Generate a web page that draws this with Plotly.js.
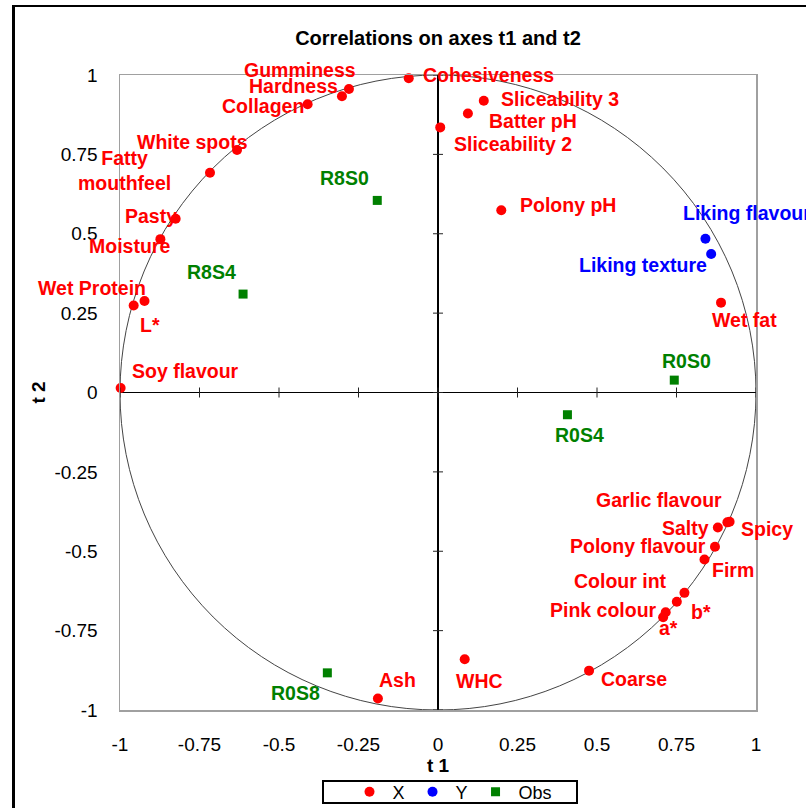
<!DOCTYPE html>
<html>
<head>
<meta charset="utf-8">
<script src="https://cdn.plot.ly/plotly-3.0.1.min.js"></script>
<style>
  html, body { margin: 0; padding: 0; background: #fff; overflow: hidden; }
  #wrap { position: relative; width: 806px; height: 808px; }
  #chart { position: absolute; left: 0; top: 0; width: 806px; height: 808px; }
  #frame { position: absolute; left: 12px; top: 5px; width: 900px; height: 900px;
           border-left: 3px solid #000; border-top: 2px solid #000; pointer-events: none; }
</style>
</head>
<body>
<div id="wrap"><div id="chart"></div><div id="frame"></div></div>
<script>
// ---------------- data ----------------
const xNames = ['Gumminess','Hardness','Collagen','Cohesiveness','White spots','Fatty mouthfeel','Pasty','Moisture',
  'Wet Protein','L*','Soy flavour','Sliceability 3','Batter pH','Sliceability 2','Polony pH','Wet fat',
  'Garlic flavour','Spicy','Salty','Polony flavour','Firm','Colour int','b*','Pink colour','a*','Coarse','WHC','Ash'];
const xT1 = [-0.280,-0.302,-0.410,-0.092,-0.632,-0.717,-0.825,-0.873,
  -0.957,-0.923,-0.998,0.144,0.094,0.007,0.199,0.890,
  0.910,0.917,0.880,0.871,0.838,0.775,0.751,0.716,0.708,0.475,0.084,-0.189];
const xT2 = [0.956,0.933,0.908,0.990,0.764,0.692,0.547,0.483,
  0.274,0.288,0.014,0.919,0.879,0.835,0.574,0.283,
  -0.409,-0.407,-0.425,-0.486,-0.526,-0.631,-0.659,-0.692,-0.708,-0.876,-0.840,-0.964];

const yNames = ['Liking flavour','Liking texture'];
const yT1 = [0.841,0.859];
const yT2 = [0.484,0.436];

const obsNames = ['R8S0','R8S4','R0S0','R0S4','R0S8'];
const obsT1 = [-0.191,-0.613,0.743,0.407,-0.348];
const obsT2 = [0.605,0.310,0.039,-0.070,-0.883];

const tickVals = [-1,-0.75,-0.5,-0.25,0,0.25,0.5,0.75,1];
const tickText = ['-1','-0.75','-0.5','-0.25','0','0.25','0.5','0.75','1'];

// ---------------- label placement (pixel offsets from marker: dx right, dy down) ----------------
const xLabelOff = [[-49,-19],[-48,-10],[-45,2],[80,-3],[-45,-8],[-85,-2],[-25,-3],[-31,7],
  [-42,-18],[6,24],[65,-17],[76,-2],[65,8],[73,17],[67,-5],[23,17],
  [-68,-22],[37,7],[-32,1],[-77,-1],[29,10],[-64,-12],[24,10],[-62,-2],[5,11],[45,8],[15,22],[20,-19]];
const yLabelOff = [[42,-26],[-68,11]];
const obsLabelOff = [[-33,-22],[-32,-22],[12,-19],[12,20],[-32,20]];

const RED = '#ff0000', BLUE = '#0000ff', GREEN = '#008000';
const FONT = 'Liberation Sans, Arial, Helvetica, sans-serif';

const traces = [
  {type:'scatter', mode:'markers', name:'X', x:xT1, y:xT2, text:xNames, cliponaxis:false,
   marker:{symbol:'circle', size:10, color:RED}, hoverinfo:'text+x+y'},
  {type:'scatter', mode:'markers', name:'Y', x:yT1, y:yT2, text:yNames, cliponaxis:false,
   marker:{symbol:'circle', size:10, color:BLUE}, hoverinfo:'text+x+y'},
  {type:'scatter', mode:'markers', name:'Obs', x:obsT1, y:obsT2, text:obsNames, cliponaxis:false,
   marker:{symbol:'square', size:9, color:GREEN}, hoverinfo:'text+x+y'}
];

function labels(names, xs, ys, offs, color) {
  return names.map((n, i) => ({
    x: xs[i], y: ys[i], xref:'x', yref:'y', text: n.replace('Fatty mouthfeel','Fatty<br>mouthfeel'),
    showarrow:false, xanchor:'center', yanchor:'middle', align:'center',
    xshift: offs[i][0], yshift: -offs[i][1],
    font:{family:FONT, size:19.5, color:color, weight:'bold'}
  }));
}
const annotations = [].concat(
  labels(xNames, xT1, xT2, xLabelOff, RED),
  labels(yNames, yT1, yT2, yLabelOff, BLUE),
  labels(obsNames, obsT1, obsT2, obsLabelOff, GREEN)
);

const PW = 636, PH = 635, ML = 120, MT = 75;   // plot area in px
const shapes = [
  {type:'circle', xref:'x', yref:'y', x0:-1, y0:-1, x1:1, y1:1, layer:'below',
   line:{color:'#444', width:1}},
  // legend frame
  {type:'rect', xref:'paper', yref:'paper',
   x0:(323-ML)/PW, x1:(577-ML)/PW, y0:(MT+PH-781)/PH, y1:(MT+PH-803)/PH,
   line:{color:'#000', width:2}, fillcolor:'rgba(0,0,0,0)', layer:'above'}
];
tickVals.forEach(v => {
  shapes.push({type:'line', xref:'x', yref:'y', x0:v, x1:v, ysizemode:'pixel', yanchor:0, y0:-5, y1:5,
    line:{color:'#222', width:1}});
  shapes.push({type:'line', xref:'x', yref:'y', y0:v, y1:v, xsizemode:'pixel', xanchor:0, x0:-5, x1:5,
    line:{color:'#222', width:1}});
});

const axisCommon = {
  range:[-1,1], autorange:false, tickvals:tickVals, ticktext:tickText, ticks:'',
  showgrid:false, zeroline:true, zerolinecolor:'#000', zerolinewidth:1.5,
  showline:true, linecolor:'#a0a0a0', linewidth:1.5, mirror:true, automargin:false,
  tickfont:{family:FONT, size:19, color:'#000'}, fixedrange:true
};

const layout = {
  width:806, height:808,
  margin:{l:ML, r:50, t:MT, b:98, pad:0, autoexpand:false},
  paper_bgcolor:'#fff', plot_bgcolor:'#fff',
  title:{text:'Correlations on axes t1 and t2', x:0.5, xref:'paper', xanchor:'center',
         y:1-38/808, yref:'container', yanchor:'middle',
         font:{family:FONT, size:20, color:'#000', weight:'bold'}},
  xaxis: Object.assign({}, axisCommon, {ticklabelstandoff:17,
         title:{text:'t 1', standoff:2, font:{family:FONT, size:19, color:'#000', weight:'bold'}}}),
  yaxis: Object.assign({}, axisCommon, {ticklabelstandoff:17,
         title:{text:'t 2', standoff:3, font:{family:FONT, size:19, color:'#000', weight:'bold'}}}),
  showlegend:true,
  legend:{orientation:'h', x:(452-ML)/PW, xanchor:'center', y:(MT+PH-792)/PH, yanchor:'middle',
          borderwidth:0, bgcolor:'rgba(0,0,0,0)',
          font:{family:FONT, size:18, color:'#000'}, itemwidth:36, tracegroupgap:0},
  shapes:shapes,
  annotations:annotations,
  hovermode:'closest'
};

Plotly.newPlot('chart', traces, layout, {displayModeBar:false, staticPlot:true});
</script>
</body>
</html>
